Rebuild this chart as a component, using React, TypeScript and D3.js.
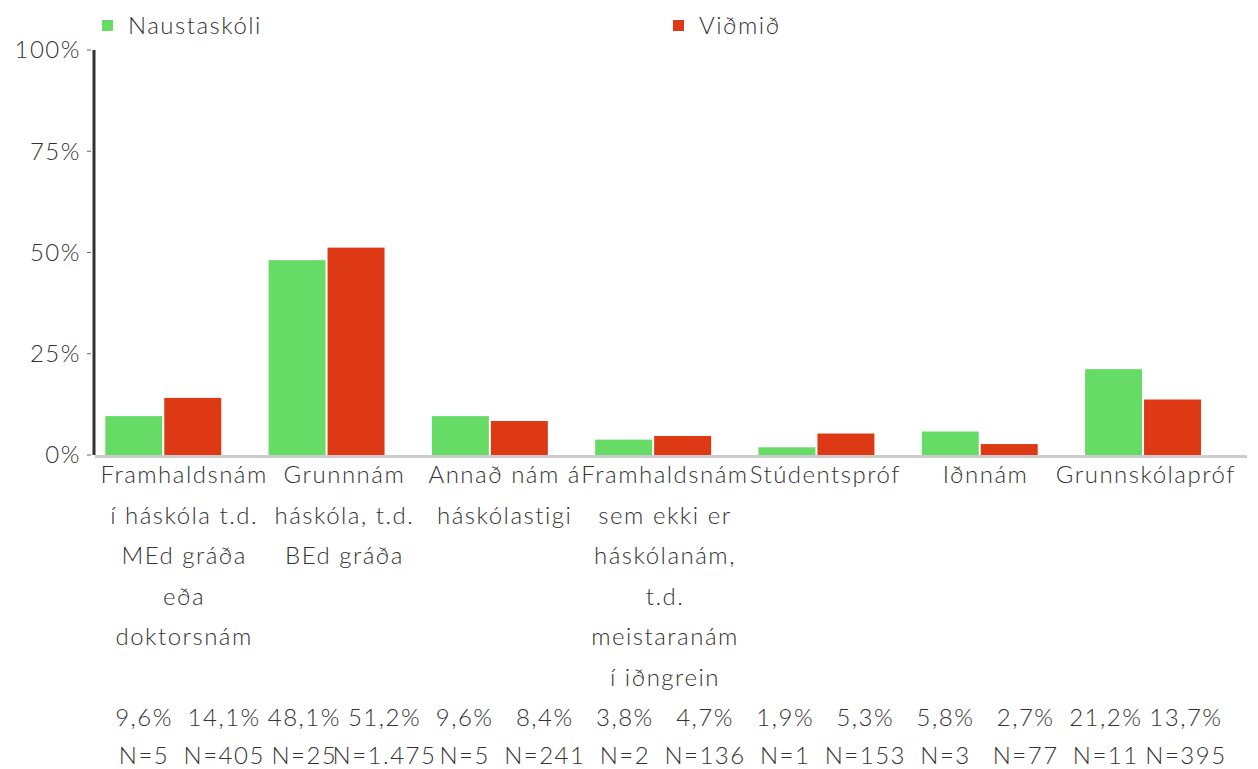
import React from "react";
import * as d3 from "d3";

const categories = [
  "Framhaldsnám í háskóla t.d. MEd gráða eða doktorsnám",
  "Grunnnám háskóla, t.d. BEd gráða",
  "Annað nám á háskólastigi",
  "Framhaldsnám sem ekki er háskólanám, t.d. meistaranám í iðngrein",
  "Stúdentspróf",
  "Iðnnám",
  "Grunnskólapróf",
];
const categoryLines = [
  ["Framhaldsnám", "í háskóla t.d.", "MEd gráða", "eða", "doktorsnám"],
  ["Grunnnám", "háskóla, t.d.", "BEd gráða"],
  ["Annað nám á", "háskólastigi"],
  ["Framhaldsnám", "sem ekki er", "háskólanám,", "t.d.", "meistaranám", "í iðngrein"],
  ["Stúdentspróf"],
  ["Iðnnám"],
  ["Grunnskólapróf"],
];
const seriesNames = ["Naustaskóli", "Viðmið"];
const schoolValues = [9.6, 48.1, 9.6, 3.8, 1.9, 5.8, 21.2];
const benchmarkValues = [14.1, 51.2, 8.4, 4.7, 5.3, 2.7, 13.7];
const schoolN = [5, 25, 5, 2, 1, 3, 11];
const benchmarkN = [405, 1475, 241, 136, 153, 77, 395];
const yTicks = [0, 25, 50, 75, 100];
const colors = ["#66dc66", "#dd3914"];

const FONT = "Lato, 'Open Sans', sans-serif";
const TEXT = "#333333";
const FS = 24;
const LS = 1.5;

const fmtPct = (v: number) => v.toFixed(1).replace(".", ",") + "%";
const fmtN = (n: number) => "N=" + String(n).replace(/\B(?=(\d{3})+(?!\d))/g, ".");

export default function App() {
  const W = 1258, H = 769;
  const y = d3.scaleLinear().domain([0, 100]).range([455, 50]);
  const x0 = d3.scaleBand<string>().domain(categories).range([81.6, 1224.7]).paddingInner(0.29).paddingOuter(0.145);
  const x1 = d3.scaleBand<string>().domain(seriesNames).range([0, x0.bandwidth()]).paddingInner(0.034);
  const xl = d3.scaleBand<string>().domain(categories).range([104, 1226]);
  const xs = d3.scaleBand<string>().domain(seriesNames).range([0, xl.bandwidth()]);
  const seriesVals = [schoolValues, benchmarkValues];
  const seriesN = [schoolN, benchmarkN];

  return (
    <svg width={W} height={H} style={{ position: "absolute", left: 0, top: 0, background: "#fff" }} fontFamily={FONT} fontWeight={300} letterSpacing={LS}>
      {/* legend */}
      {seriesNames.map((s, i) => {
        const lx = i === 0 ? 102 : 673;
        return (
          <g key={s}>
            <rect x={lx} y={20} width={11} height={11} fill={colors[i]} />
            <text x={lx + 26} y={34} fontSize={FS} fill={TEXT}>{s}</text>
          </g>
        );
      })}
      {/* y axis */}
      <line x1={94} x2={94} y1={y(100)} y2={y(0)} stroke="#333" strokeWidth={3} />
      {yTicks.map((t) => (
        <g key={t}>
          <line x1={87} x2={91} y1={y(t)} y2={y(t)} stroke="#666" strokeWidth={1} />
          <text x={81} y={y(t)} dy="0.35em" textAnchor="end" fontSize={FS} fill={TEXT}>{t}%</text>
        </g>
      ))}
      {/* bars */}
      {categories.map((c, ci) => (
        <g key={c} transform={`translate(${x0(c)},0)`}>
          {seriesNames.map((s, si) => (
            <rect key={s} x={x1(s)} y={y(seriesVals[si][ci])} width={x1.bandwidth()} height={y(0) - y(seriesVals[si][ci])} fill={colors[si]} />
          ))}
        </g>
      ))}
      {/* baseline */}
      <line x1={95} x2={1247} y1={456.5} y2={456.5} stroke="#cccccc" strokeWidth={3} />
      {/* category labels */}
      {categories.map((c, ci) => (
        <text key={c} x={(xl(c) as number) + xl.bandwidth() / 2} y={483} textAnchor="middle" fontSize={FS} fill={TEXT}>
          {categoryLines[ci].map((ln, li) => (
            <tspan key={li} x={(xl(c) as number) + xl.bandwidth() / 2} dy={li === 0 ? 0 : 40.5}>{ln}</tspan>
          ))}
        </text>
      ))}
      {/* value rows */}
      {categories.map((c, ci) => (
        <g key={c}>
          {seriesNames.map((s, si) => {
            const cx = (xl(c) as number) + (xs(s) as number) + xs.bandwidth() / 2;
            return (
              <g key={s}>
                <text x={cx} y={726} textAnchor="middle" fontSize={FS} fill={TEXT}>{fmtPct(seriesVals[si][ci])}</text>
                <text x={cx} y={764} textAnchor="middle" fontSize={FS} fill={TEXT}>{fmtN(seriesN[si][ci])}</text>
              </g>
            );
          })}
        </g>
      ))}
    </svg>
  );
}
